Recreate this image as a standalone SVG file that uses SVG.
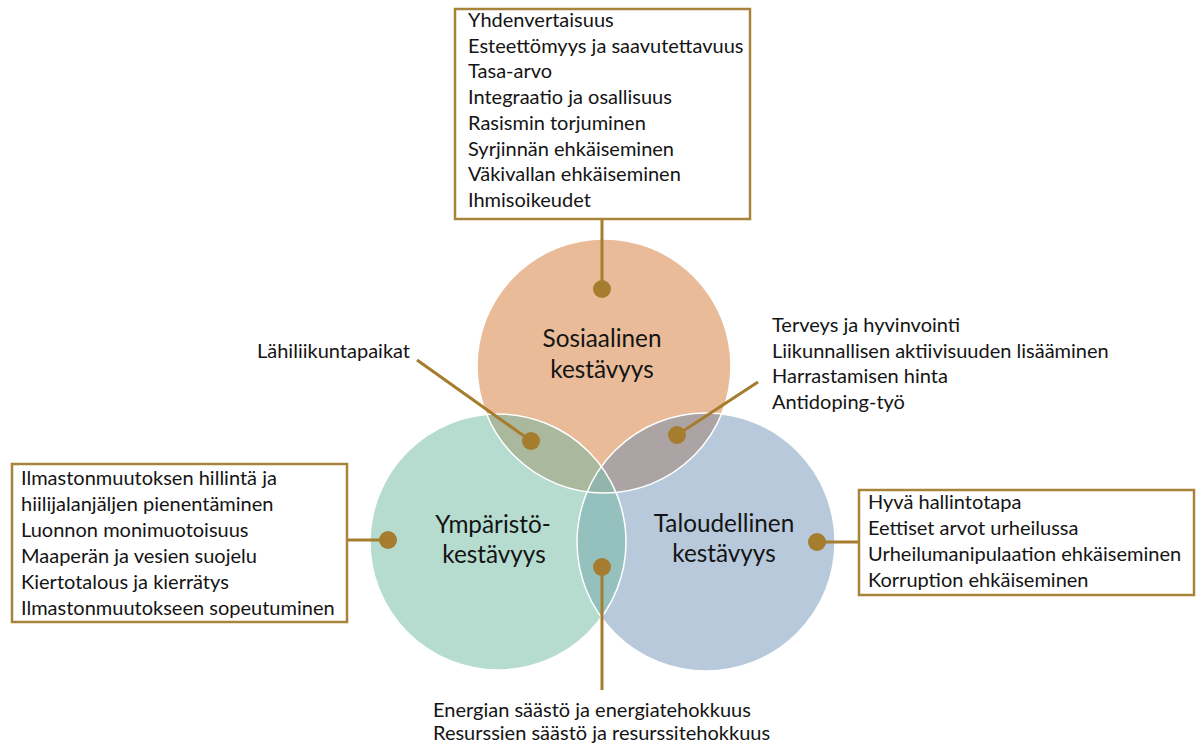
<svg xmlns="http://www.w3.org/2000/svg" width="1196" height="747" viewBox="0 0 1196 747">
<defs>
<style>
.t{font-family:Lato,"Liberation Sans",sans-serif;font-size:20px;fill:#141414}
.c{font-family:Lato,"Liberation Sans",sans-serif;font-size:24.3px;fill:#141414;text-anchor:middle}
.box{fill:#fff;stroke:#A8843A;stroke-width:2.5}
.ln{stroke:#A67C2E;stroke-width:3;fill:none}
.dot{fill:#A67C2E}
.edge{fill:none;stroke:#fff;stroke-width:1.5}
</style>
<clipPath id="cTop"><circle cx="604" cy="366" r="127"/></clipPath>
<clipPath id="cLeft"><circle cx="498" cy="542" r="128"/></clipPath>
<clipPath id="cRight"><circle cx="706" cy="542" r="129"/></clipPath>
</defs>
<rect width="1196" height="747" fill="#fff"/>
<g id="circles">
<g id="social"><circle cx="604" cy="366" r="127" fill="#E9BB98"/></g>
<g id="environment"><circle cx="498" cy="542" r="128" fill="#B5DCCF"/></g>
<g id="economic"><circle cx="706" cy="542" r="129" fill="#B8C9DB"/></g>
<g clip-path="url(#cTop)"><circle cx="498" cy="542" r="128" fill="#AAB99D"/></g>
<g clip-path="url(#cTop)"><circle cx="706" cy="542" r="129" fill="#ACA4A4"/></g>
<g clip-path="url(#cLeft)"><circle cx="706" cy="542" r="129" fill="#94C1BD"/></g>
<g clip-path="url(#cTop)"><g clip-path="url(#cLeft)"><circle cx="706" cy="542" r="129" fill="#91B5AB"/></g></g>
<circle class="edge" cx="604" cy="366" r="127"/>
<circle class="edge" cx="498" cy="542" r="128"/>
<circle class="edge" cx="706" cy="542" r="129"/>
<text class="c" x="602" y="347">Sosiaalinen</text>
<text class="c" x="602" y="378">kestävyys</text>
<text class="c" x="493" y="533">Ympäristö-</text>
<text class="c" x="494" y="563">kestävyys</text>
<text class="c" x="724" y="532">Taloudellinen</text>
<text class="c" x="724" y="562">kestävyys</text>
</g>
<g id="connectors">
<line class="ln" x1="602" y1="219" x2="602" y2="289"/>
<line class="ln" x1="417" y1="360" x2="531" y2="441"/>
<line class="ln" x1="758" y1="382" x2="677" y2="435"/>
<line class="ln" x1="347" y1="540" x2="388" y2="540"/>
<line class="ln" x1="817" y1="542" x2="859" y2="542"/>
<line class="ln" x1="602" y1="567" x2="602" y2="690"/>
<circle class="dot" cx="602" cy="289" r="9"/>
<circle class="dot" cx="531" cy="441" r="9"/>
<circle class="dot" cx="677" cy="435" r="9"/>
<circle class="dot" cx="388" cy="540" r="9"/>
<circle class="dot" cx="817" cy="542" r="9"/>
<circle class="dot" cx="602" cy="567" r="9"/>
</g>
<g id="social-box">
<rect class="box" x="455" y="9" width="295" height="210"/>
<text class="t" x="468" y="27">Yhdenvertaisuus</text>
<text class="t" x="468" y="52.7">Esteettömyys ja saavutettavuus</text>
<text class="t" x="468" y="78.4">Tasa-arvo</text>
<text class="t" x="468" y="104.1">Integraatio ja osallisuus</text>
<text class="t" x="468" y="129.9">Rasismin torjuminen</text>
<text class="t" x="468" y="155.6">Syrjinnän ehkäiseminen</text>
<text class="t" x="468" y="181.3">Väkivallan ehkäiseminen</text>
<text class="t" x="468" y="207">Ihmisoikeudet</text>
</g>
<g id="social-env-label">
<text class="t" x="257" y="358">Lähiliikuntapaikat</text>
</g>
<g id="social-econ-label">
<text class="t" x="772" y="332">Terveys ja hyvinvointi</text>
<text class="t" x="772" y="357.5">Liikunnallisen aktiivisuuden lisääminen</text>
<text class="t" x="772" y="383">Harrastamisen hinta</text>
<text class="t" x="772" y="408.5">Antidoping-työ</text>
</g>
<g id="env-box">
<rect class="box" x="12" y="464" width="335" height="158"/>
<text class="t" x="21" y="485">Ilmastonmuutoksen hillintä ja</text>
<text class="t" x="21" y="511">hiilijalanjäljen pienentäminen</text>
<text class="t" x="21" y="537">Luonnon monimuotoisuus</text>
<text class="t" x="21" y="563">Maaperän ja vesien suojelu</text>
<text class="t" x="21" y="589">Kiertotalous ja kierrätys</text>
<text class="t" x="21" y="615">Ilmastonmuutokseen sopeutuminen</text>
</g>
<g id="econ-box">
<rect class="box" x="859" y="490" width="335" height="105"/>
<text class="t" x="868" y="509">Hyvä hallintotapa</text>
<text class="t" x="868" y="535">Eettiset arvot urheilussa</text>
<text class="t" x="868" y="561">Urheilumanipulaation ehkäiseminen</text>
<text class="t" x="868" y="587">Korruption ehkäiseminen</text>
</g>
<g id="env-econ-label">
<text class="t" x="433" y="717">Energian säästö ja energiatehokkuus</text>
<text class="t" x="433" y="740">Resurssien säästö ja resurssitehokkuus</text>
</g>
</svg>
